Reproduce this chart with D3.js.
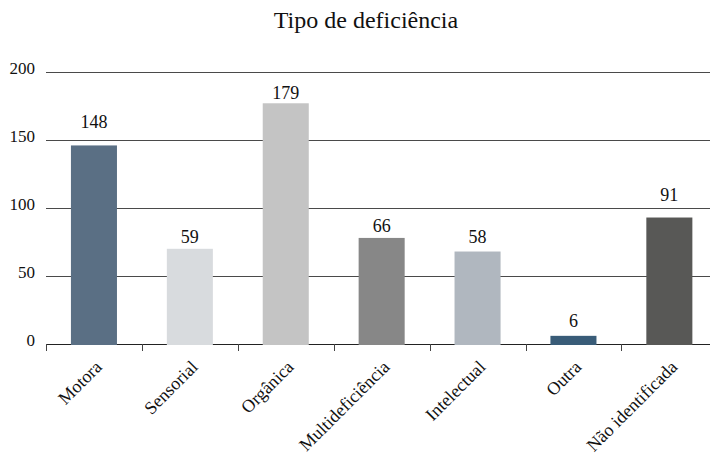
<!DOCTYPE html>
<html>
<head>
<meta charset="utf-8">
<script src="https://cdn.jsdelivr.net/npm/d3@7"></script>
<style>
  html, body { margin: 0; padding: 0; background: #fff; }
  svg { display: block; }
</style>
</head>
<body>
<svg id="chart" width="710" height="454"></svg>
<script>
// ---- data ----
const title = "Tipo de deficiência";
const categories = ["Motora", "Sensorial", "Orgânica", "Multideficiência", "Intelectual", "Outra", "Não identificada"];
// bar heights as drawn in the picture
const barValues = [146, 70, 177, 78, 68, 6, 93];
// numbers printed above the bars
const valueLabels = ["148", "59", "179", "66", "58", "6", "91"];
// level (in axis units) where each printed number sits
const labelLevels = [158.6, 74.5, 180, 82.6, 74, 12.7, 105.4];
const yTicks = [0, 50, 100, 150, 200];
const colors = ["#5a6f84", "#d8dbde", "#c4c4c4", "#878787", "#b0b7bf", "#395c78", "#585856"];

// ---- layout ----
const FONT = "'Liberation Serif'";
const svg = d3.select("#chart");
const W = 710;
const x = d3.scaleBand().domain(categories).range([46, 717.3]).paddingInner(0.52).paddingOuter(0.26);
const y = d3.scaleLinear().domain([0, 200]).range([344, 72]);
const step = x.step();
const gap = step - x.bandwidth();

function txt(sel, size) {
  return sel.style("font-family", FONT).style("font-size", size + "px").style("fill", "#111");
}

// title
txt(svg.append("text")
  .attr("x", 366).attr("y", 28)
  .attr("text-anchor", "middle"), 24)
  .text(title);

// gridlines
svg.append("g").selectAll("line").data(yTicks).join("line")
  .attr("x1", 46).attr("x2", W)
  .attr("y1", d => Math.round(y(d)) + 0.5).attr("y2", d => Math.round(y(d)) + 0.5)
  .attr("stroke", d => d === 0 ? "#222" : "#4a4a4a")
  .attr("stroke-width", 1);

// y tick labels
txt(svg.append("g").selectAll("text").data(yTicks).join("text")
  .attr("x", 35).attr("y", d => y(d) - 3)
  .attr("dy", "0.32em")
  .attr("text-anchor", "end"), 17)
  .text(d => d);

// category boundary ticks
const bounds = categories.map(c => x(c) - gap / 2);
svg.append("g").selectAll("line").data(bounds).join("line")
  .attr("x1", d => Math.round(d) + 0.5).attr("x2", d => Math.round(d) + 0.5)
  .attr("y1", y(0)).attr("y2", y(0) + 7)
  .attr("stroke", "#444").attr("stroke-width", 1);

// bars
svg.append("g").selectAll("rect").data(categories).join("rect")
  .attr("x", d => x(d))
  .attr("width", x.bandwidth())
  .attr("y", (d, i) => y(barValues[i]))
  .attr("height", (d, i) => y(0) - y(barValues[i]) + 1)
  .attr("fill", (d, i) => colors[i]);

// value labels
txt(svg.append("g").selectAll("text").data(categories).join("text")
  .attr("x", d => x(d) + x.bandwidth() / 2)
  .attr("y", (d, i) => y(labelLevels[i]))
  .attr("text-anchor", "middle"), 18)
  .text((d, i) => valueLabels[i]);

// category labels (rotated)
txt(svg.append("g").selectAll("text").data(categories).join("text")
  .attr("transform", d => `translate(${x(d) + x.bandwidth() / 2 + 9},${y(0) + 24}) rotate(-45)`)
  .attr("text-anchor", "end"), 18)
  .text(d => d);
</script>
</body>
</html>
